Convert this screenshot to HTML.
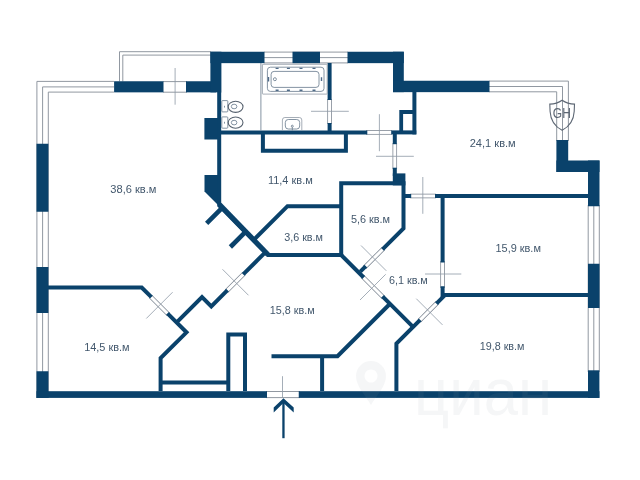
<!DOCTYPE html>
<html>
<head>
<meta charset="utf-8">
<title>Plan</title>
<style>
html,body{margin:0;padding:0;background:#fff;}
body{width:640px;height:480px;overflow:hidden;font-family:"Liberation Sans",sans-serif;}
svg{display:block;}
.w{fill:#0a426b;}
.s{fill:none;stroke:#0a426b;stroke-width:4;stroke-linejoin:miter;stroke-linecap:butt;}
.t{fill:none;stroke:#858c96;stroke-width:0.9;}
.m{fill:none;stroke:#8e99a6;stroke-width:0.8;}
.f{fill:none;stroke:#66788c;stroke-width:0.8;}
.og{fill:none;stroke:#737d8a;stroke-width:4.5;}
.ow{fill:none;stroke:#fff;stroke-width:3.1;}
.lbl{font-family:"Liberation Sans",sans-serif;font-size:11.6px;fill:#42576c;}
</style>
</head>
<body>
<svg width="640" height="480" viewBox="0 0 640 480">
<defs><filter id="soft" x="-5%" y="-5%" width="110%" height="110%" color-interpolation-filters="sRGB"><feGaussianBlur stdDeviation="0.35"/></filter></defs>
<rect x="0" y="0" width="640" height="480" fill="#fff"/>

<!-- window / thin frame lines -->
<g class="t" id="windows">
<!-- left wall window -->
<path d="M36.9,398 V81.4 H114"/>
<path d="M42.6,398 V86.9 H114"/>
<path d="M48.3,398 V92.1 H114"/>
<!-- balcony -->
<path d="M119.5,81.5 V51.7 H211"/>
<path d="M122.8,81.5 V55.1 H211"/>
<!-- door opening top -->
<path d="M163,81.6 H187 M163,92.2 H187"/>
<!-- top windows -->
<path d="M264,52.1 H348 M264,57.6 H348 M264,62.9 H348"/>
<!-- right-top window -->
<path d="M489,81.1 H568.4 V141"/>
<path d="M489,86.5 H562.5 V141"/>
<path d="M489,91.8 H556.7 V141"/>
<!-- right wall window -->
<path d="M588.2,205 V372 M593.8,205 V372 M599.3,205 V372"/>
<!-- entry opening -->
<path d="M266,391.5 H300 M266,397.6 H300"/>
</g>

<!-- door openings in interior walls (frame lines) -->
<g id="openings">
<path class="og" d="M329.6,99 V124"/><path class="ow" d="M329.6,98 V125"/>
<path class="og" d="M366,132.4 H392"/><path class="ow" d="M366,132.4 H392"/>
<path class="og" d="M394.8,143 V169"/><path class="ow" d="M394.8,143 V169"/>
<path class="og" d="M410,196 H436"/><path class="ow" d="M410,196 H436"/>
<path class="og" d="M442.6,261 V288"/><path class="ow" d="M442.6,261 V288"/>
<path class="og" d="M383.5,248.5 L364.5,267.5"/><path class="ow" d="M383.5,248.5 L364.5,267.5"/>
<path class="og" d="M362.5,276.5 L383.5,297.5"/><path class="ow" d="M362.5,276.5 L383.5,297.5"/>
<path class="og" d="M437.4,302.6 L419.2,320.8"/><path class="ow" d="M437.4,302.6 L419.2,320.8"/>
<path class="og" d="M244,273.6 L226.5,291.1"/><path class="ow" d="M244,273.6 L226.5,291.1"/>
<path class="og" d="M150.5,296.5 L168.5,314.5"/><path class="ow" d="M150.5,296.5 L168.5,314.5"/>
</g>

<!-- door swing marks -->
<g class="m" id="marks">
<path d="M175.1,68 V104.7"/>
<path d="M311,111.3 H348.8"/>
<path d="M379.4,114.2 V151.2"/>
<path d="M376,156.3 H413.8"/>
<path d="M422.8,177 V213.8"/>
<path d="M425,274 H461.3"/>
<path d="M361,245.5 L386.3,270.8"/>
<path d="M360,300 L385.7,274.3"/>
<path d="M416.3,298.7 L442.5,324.9"/>
<path d="M222.5,269.3 L248.5,295.3"/>
<path d="M146.3,318.5 L172.6,292.2"/>
<path d="M282.5,376.2 V398"/>
</g>

<!-- thick outer walls -->
<g class="w" id="outer">
<!-- left wall blocks -->
<rect x="36.5" y="143.75" width="11.9" height="68"/>
<rect x="36.5" y="267" width="11.9" height="46"/>
<rect x="36.5" y="371.25" width="11.9" height="26.65"/>
<!-- bottom wall -->
<rect x="36.5" y="391.2" width="230.5" height="6.7"/>
<rect x="298.75" y="391.2" width="300.65" height="6.7"/>
<!-- top-left blocks -->
<rect x="114.1" y="81.25" width="49.4" height="11.1"/>
<rect x="186" y="81.25" width="30" height="11.1"/>
<!-- top wall -->
<rect x="210.4" y="51.75" width="54.1" height="11.4"/>
<rect x="210.4" y="51.75" width="11" height="40.6"/>
<rect x="292.5" y="51.75" width="27.5" height="11.4"/>
<rect x="347.5" y="51.75" width="56.3" height="11.4"/>
<rect x="393" y="51.75" width="10.8" height="40.4"/>
<rect x="393" y="80.75" width="96.5" height="11.4"/>
<!-- right-top stepped -->
<rect x="556.4" y="140" width="11.8" height="32"/>
<rect x="556.4" y="160.5" width="43.1" height="11.5"/>
<rect x="588" y="160.5" width="11.5" height="45.75"/>
<!-- right wall blocks -->
<rect x="588" y="263.75" width="11.5" height="44.25"/>
<rect x="588" y="370.3" width="11.4" height="27.6"/>
<!-- interior thick blocks -->
<rect x="204.4" y="118" width="14" height="21.5"/>
<path d="M204.5,175 H219 V206 L204.5,191.5z"/>
<rect x="392.8" y="173.4" width="12.6" height="12"/>
</g>

<!-- interior walls -->
<g class="s" id="inner">
<!-- bathroom / 38.6 divider going down into diagonal -->
<path d="M219.2,92 V205.5 L267.5,254.8"/>
<path d="M219.6,204.5 L268,254.3" stroke-width="4.8"/>
<!-- bathroom bottom wall -->
<path d="M219,132.4 H367.3"/>
<path d="M391.2,132.4 H416.3"/>
<!-- niche below bathroom -->
<path d="M262.9,134 V150.8 H345.9 V134"/>
<!-- bathroom right wall -->
<path d="M329.6,63 V100"/>
<path d="M329.6,123 V131"/>
<!-- wall right of hall -->
<path d="M414.4,92 V134.4"/>
<!-- small shaft box -->
<path d="M414.4,112 H401.2 V132" stroke-width="3.8"/>
<!-- below hall -->
<path d="M394.8,134 V144.2"/>
<path d="M394.8,167.7 V176"/>
<!-- room 5.6 -->
<path d="M341.2,257 V183.3 H403.5 V228.3 L382.5,249.3"/>
<path d="M365.8,266.2 L360.3,271.7"/>
<!-- room 3.6 -->
<path d="M341.2,206.2 H287.5 L252.6,241.1"/>
<path d="M266.5,255 H341.2"/>
<!-- stubs -->
<path d="M221.6,208.4 L206.6,223.4" stroke-width="4.6"/>
<path d="M246.2,231.2 L230.4,247" stroke-width="4.6"/>
<!-- diagonal G -->
<path d="M341.2,255 L363.7,277.5"/>
<path d="M382.5,296.3 L413.3,327.1"/>
<!-- diagonal H -->
<path d="M588,295 H442.6 V286.2"/>
<path d="M442.6,196 V262.5"/>
<path d="M444.4,295.6 L436.4,303.6"/>
<path d="M420.2,319.8 L396.4,343.6 V391"/>
<!-- horizontal 24.1 bottom wall -->
<path d="M405,196 H411.2"/>
<path d="M435,196 H588"/>
<!-- wall below 5.6 block -->
<!-- diagonal I + entry hall -->
<path d="M389.8,304 L337.5,356.2 H271.5"/>
<path d="M322.1,356 V391"/>
<!-- zigzag -->
<path d="M265.8,251.8 L243.2,274.4"/>
<path d="M227.5,290.1 L211.3,306.3 L202,297 L177.2,321.8"/>
<!-- room 14.5 -->
<path d="M48,287.5 H141.7 L151.4,297.2"/>
<path d="M167.5,313.3 L186.5,332.3 L160.6,358.2 V391"/>
<path d="M160.6,382.6 H227"/>
<!-- column -->
<path d="M228.3,391 V334.5 H245 V391"/>
<!-- room 15.9 top wall already; 19.8 -->
</g>

<!-- fixtures -->
<g class="f" id="fixtures">
<!-- shower line -->
<path d="M260.9,63 V130.5"/>
<!-- bathtub -->
<rect x="262.4" y="64.3" width="64.8" height="29.8" rx="0.5" stroke="#8f99a5"/>
<rect x="267.4" y="67.2" width="56.6" height="24.2" rx="3"/>
<rect x="271.1" y="71.4" width="47.9" height="16" rx="3"/>
<circle cx="274.9" cy="79.2" r="1.5"/>
<path d="M275.6,68.4 h3 M286.9,68.4 h3 M299.5,68.4 h3 M312.5,68.4 h3 M275.6,90.3 h3 M286.9,90.3 h3 M299.5,90.3 h3 M312.5,90.3 h3 M268.5,77 v4.6 M321.5,77.3 v3.6" stroke="#4f6b88" stroke-width="1.4"/>
<!-- sink -->
<path d="M282.4,130.4 V120 a2.5,2.5 0 0 1 2.5,-2.5 H299.3 a2.5,2.5 0 0 1 2.5,2.5 V130.4" stroke="#8f99a5"/>
<rect x="285.3" y="119.5" width="14.4" height="9.5" rx="3"/>
<circle cx="292.3" cy="126.2" r="1"/>
<path d="M292.3,127.2 V130.4"/>
<!-- toilets -->
<rect x="221.8" y="100.6" width="6" height="11.3" rx="0.8"/>
<ellipse cx="235.6" cy="106.8" rx="7.4" ry="5.6" stroke="#56616e" stroke-width="1.1"/>
<ellipse cx="234.1" cy="106.5" rx="2.8" ry="2.3"/>
<path d="M224.5,105.8 v1.8"/>
<rect x="221.8" y="116.9" width="6" height="11.3" rx="0.8"/>
<ellipse cx="235.6" cy="122.6" rx="7.4" ry="5.6" stroke="#56616e" stroke-width="1.1"/>
<ellipse cx="234.1" cy="122.6" rx="2.8" ry="2.3"/>
<path d="M224.5,121.8 v1.8"/>
</g>

<!-- shield logo -->
<g id="logo" filter="url(#soft)" fill="none" stroke="#5d6774" stroke-width="1.1">
<path d="M562.1,100.3 C558.5,102.9 554.5,104.1 549.8,104.1 L550.1,111.5 C550.6,120.5 554.2,126.2 562.1,130.3 C570,126.2 573.7,120.5 574.2,111.5 L574.5,104.1 C569.8,104.1 565.8,102.9 562.1,100.3z"/>
<text x="552.8" y="118.2" font-family="Liberation Sans, sans-serif" font-size="14" fill="#5d6774" stroke="none" textLength="18" lengthAdjust="spacingAndGlyphs">GH</text>
</g>

<!-- entry arrow -->
<g id="arrow" fill="#0a426b">
<rect x="282.3" y="400" width="2.3" height="38.2"/>
<path d="M283.45,398.3 L293.7,407.6 V412.4 L283.45,403.1 L273.7,412.4 V407.6z"/>
</g>

<!-- watermark -->
<g id="wm" fill="#8f99a5" fill-opacity="0.085" filter="url(#soft)">
<text x="414" y="414.5" font-family="Liberation Sans, sans-serif" font-size="66" textLength="138" lengthAdjust="spacingAndGlyphs">циан</text>
<path d="M371,361 a15,15 0 0 1 15,15 c0,10 -9,19 -15,29 c-6,-10 -15,-19 -15,-29 a15,15 0 0 1 15,-15z M371,369.5 a6.5,6.5 0 1 0 0.01,0z" fill-rule="evenodd"/>
</g>

<!-- labels -->
<g class="lbl" id="labels" filter="url(#soft)" transform="translate(0,0.4)">
<text x="110.3" y="192.3" textLength="46.1" lengthAdjust="spacingAndGlyphs">38,6 кв.м</text>
<text x="84.2" y="350.8" textLength="45.4" lengthAdjust="spacingAndGlyphs">14,5 кв.м</text>
<text x="267.9" y="183.8" textLength="44.9" lengthAdjust="spacingAndGlyphs">11,4 кв.м</text>
<text x="284.2" y="240.2" textLength="38.8" lengthAdjust="spacingAndGlyphs">3,6 кв.м</text>
<text x="350.9" y="222.6" textLength="39.2" lengthAdjust="spacingAndGlyphs">5,6 кв.м</text>
<text x="388.9" y="283.2" textLength="38.9" lengthAdjust="spacingAndGlyphs">6,1 кв.м</text>
<text x="269.7" y="313.2" textLength="44.9" lengthAdjust="spacingAndGlyphs">15,8 кв.м</text>
<text x="469.7" y="146.8" textLength="46.0" lengthAdjust="spacingAndGlyphs">24,1 кв.м</text>
<text x="495.5" y="251.3" textLength="45.4" lengthAdjust="spacingAndGlyphs">15,9 кв.м</text>
<text x="479.7" y="349.6" textLength="44.8" lengthAdjust="spacingAndGlyphs">19,8 кв.м</text>
</g>
</svg>
</body>
</html>
